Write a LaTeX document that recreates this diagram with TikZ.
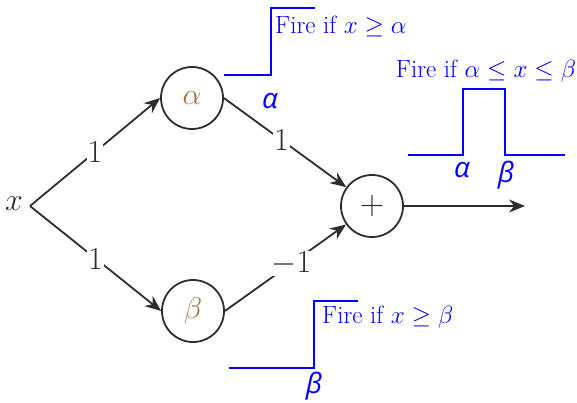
\documentclass[tikz,border=0pt]{standalone}
\usepackage{fix-cm}
\usepackage{fontspec}
\usetikzlibrary{arrows.meta}
\newfontfamily\greeksans{Open Sans}
\definecolor{nodebrown}{RGB}{160,110,60}
\definecolor{edgegray}{RGB}{45,45,45}
\tikzset{
  neuron/.style={circle, draw=edgegray, line width=1.8pt, minimum size=62pt, inner sep=0pt, font=\fontsize{30}{34}\selectfont},
  conn/.style={draw=edgegray, line width=1.8pt, -{Stealth[length=16pt, width=13pt]}},
  wlabel/.style={fill=white, inner sep=1pt, font=\fontsize{32}{36}\selectfont, text=edgegray},
  stepline/.style={draw=blue, line width=2.4pt},
  firetext/.style={text=blue, inner sep=0pt, font=\fontsize{25}{28}\selectfont},
  greeklab/.style={text=blue, inner sep=0pt, font=\greeksans\itshape\fontsize{28}{30}\selectfont},
}
\begin{document}
\begin{tikzpicture}[x=1pt, y=-1pt]
\useasboundingbox (0,0) rectangle (577,402);
% nodes
\node[inner sep=0pt, font=\fontsize{32}{36}\selectfont, text=edgegray] (xlab) at (14,204) {$x$};
\coordinate (xj) at (30,206);
\node[neuron] (alpha) at (192,98) {\textcolor{nodebrown}{$\alpha$}};
\node[neuron] (beta) at (193,311) {\textcolor{nodebrown}{$\beta$}};
\node[neuron, font=\fontsize{34}{36}\selectfont] (plus) at (372,206) {\textcolor{edgegray}{$+$}};
\coordinate (out) at (525,206);
% connectors
\draw[conn] (xj) -- node[wlabel] {1} (alpha.west);
\draw[conn] (xj) -- node[wlabel] {1} (beta.west);
\draw[conn] (alpha.east) -- node[wlabel, pos=0.47] {1} (plus);
\draw[conn] (beta.east) -- node[wlabel, pos=0.55] {$-1$} (plus);
\draw[conn] (plus.east) -- (out);
\node[greeklab] (alab) at (270,101) {α};
% step for alpha
\draw[stepline] (224,75) -- (271,75) -- (271,8) -- (315,8);
\node[firetext, anchor=base west] (fa) at (275,33) {Fire if $x\geq\alpha$};
% band pass
\draw[stepline] (408,155) -- (463,155) -- (463,89) -- (505,89) -- (505,155) -- (565,155);
\node[firetext, anchor=base] (fab) at (486,77) {Fire if $\alpha\leq x\leq\beta$};
\node[greeklab] (ba) at (462,170) {α};
\node[greeklab] (bb) at (506,175) {β};
% step for beta
\draw[stepline] (229,368) -- (314,368) -- (314,301) -- (358,301);
\node[firetext, anchor=base west] (fb) at (322,323) {Fire if $x\geq\beta$};
\node[greeklab] (bbeta) at (314,386) {β};
\end{tikzpicture}
\end{document}
